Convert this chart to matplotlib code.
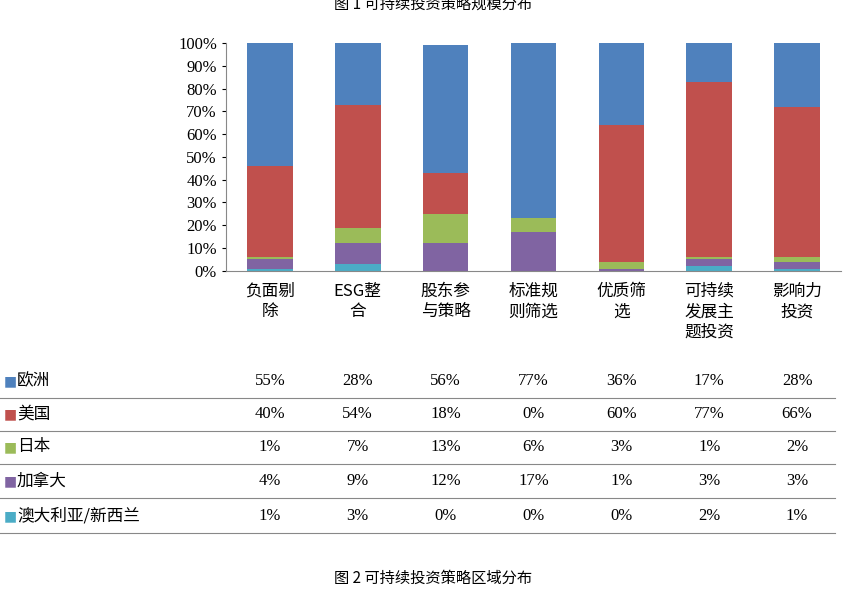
import matplotlib
matplotlib.use("Agg")
import matplotlib.pyplot as plt
from matplotlib.transforms import blended_transform_factory
import numpy as np

categories = ["负面剔\n除", "ESG整\n合", "股东参\n与策略", "标准规\n则筛选", "优质筛\n选", "可持续\n发展主\n题投资", "影响力\n投资"]
series_names = ["欧洲", "美国", "日本", "加拿大", "澳大利亚/新西兰"]
europe = [55, 28, 56, 77, 36, 17, 28]
usa = [40, 54, 18, 0, 60, 77, 66]
japan = [1, 7, 13, 6, 3, 1, 2]
canada = [4, 9, 12, 17, 1, 3, 3]
australia = [1, 3, 0, 0, 0, 2, 1]
data = [europe, usa, japan, canada, australia]
colors = ["#4F81BD", "#C0504D", "#9BBB59", "#8064A2", "#4BACC6"]

CJK = "Noto Sans CJK SC"
NUM = "Liberation Serif"

fig = plt.figure(figsize=(8.66, 5.9), dpi=100)
ax = fig.add_axes([226 / 866, 0.541, 615 / 866, 0.386])
x = np.arange(len(categories))
bottom = np.zeros(len(categories))
for vals, c in zip(data[::-1], colors[::-1]):
    v = np.array(vals, float)
    ax.bar(x, v, 0.52, bottom=bottom, color=c)
    bottom += v
ax.set_xlim(-0.5, len(categories) - 0.5)
ax.set_ylim(0, 100)
ax.set_yticks(range(0, 101, 10))
ax.set_yticklabels([f"{t}%" for t in range(0, 101, 10)], fontsize=12, fontfamily=NUM)
ax.set_xticks([])
for s in ["top", "right"]:
    ax.spines[s].set_visible(False)
ax.spines["left"].set_color("#888888")
ax.spines["bottom"].set_color("#888888")
ax.tick_params(axis="y", length=3, colors="black")

tr = blended_transform_factory(ax.transData, fig.transFigure)
for i, lab in enumerate(categories):
    fig.text(i, 1 - 283 / 590, lab, transform=tr, ha="center", va="top",
             fontsize=12, fontfamily=CJK, linespacing=1.25)

row_y = [381, 414, 447, 481, 516]
for r, (name, vals, c) in enumerate(zip(series_names, data, colors)):
    yc = 1 - row_y[r] / 590
    fig.text(4 / 866, yc, "■", color=c, fontsize=10, va="center", ha="left", fontfamily="DejaVu Sans")
    fig.text(17 / 866, yc, name, fontsize=12, va="center", ha="left", fontfamily=CJK)
    for i, v in enumerate(vals):
        fig.text(i, yc, f"{v}%", transform=tr, ha="center", va="center", fontsize=12, fontfamily=NUM)
    ly = 1 - (row_y[r] + 17) / 590
    fig.add_artist(plt.Line2D([0, 835 / 866], [ly, ly], color="#888888", lw=0.8))

fig.text(0.5, 1 - 4 / 590, "图 1 可持续投资策略规模分布", ha="center", va="center", fontsize=11, fontfamily=CJK)
fig.text(0.5, 1 - 578 / 590, "图 2 可持续投资策略区域分布", ha="center", va="center", fontsize=11, fontfamily=CJK)

fig.savefig("out.png", dpi=100)
